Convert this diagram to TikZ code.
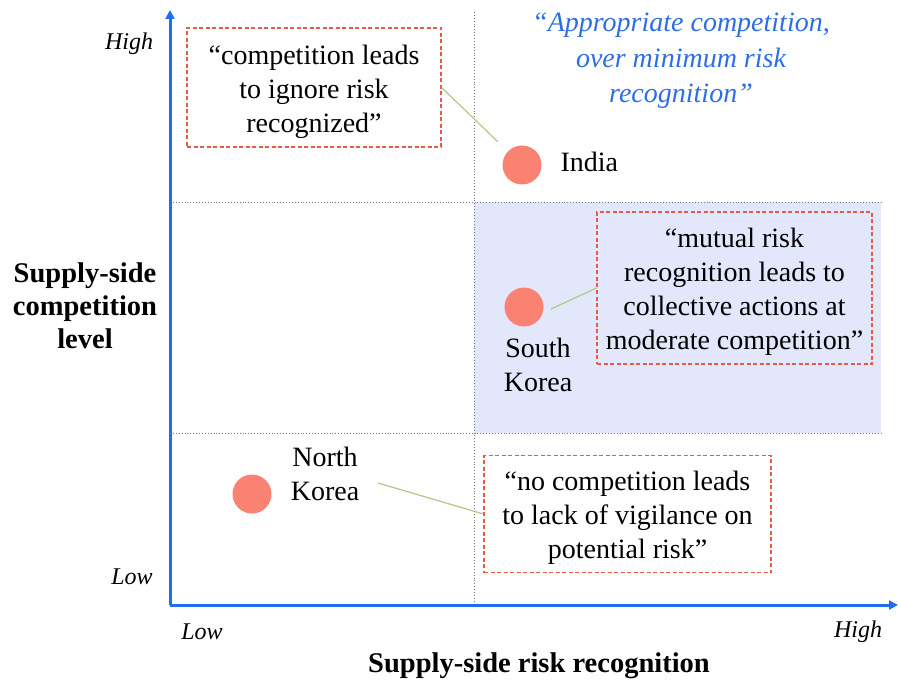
\documentclass[tikz,border=0pt]{standalone}
\usepackage{fontspec}
\setmainfont{Liberation Serif}
\usetikzlibrary{arrows.meta}
\definecolor{axisblue}{RGB}{30,110,238}
\definecolor{quoteblue}{RGB}{45,110,230}
\definecolor{zonefill}{RGB}{226,231,251}
\definecolor{boxred}{RGB}{232,90,70}
\definecolor{dotsalmon}{RGB}{250,130,115}
\definecolor{leadgreen}{RGB}{175,200,135}
\definecolor{gridgray}{RGB}{120,120,120}
\begin{document}
\begin{tikzpicture}[x=1pt,y=-1pt,
  axis/.style={draw=axisblue,line width=3pt,-{Triangle[width=9pt,length=9pt]}},
  grid/.style={draw=gridgray,dotted,line width=0.9pt},
  quotebox/.style={draw=boxred,dashed,dash pattern=on 4pt off 2.5pt,line width=1.1pt,inner sep=0pt},
  quotetext/.style={align=center,inner sep=0pt,yshift=-4pt,font=\fontsize{28}{34}\selectfont},
  country/.style={circle,fill=dotsalmon,minimum size=39pt,inner sep=0pt},
  cname/.style={align=center,font=\fontsize{28}{34}\selectfont},
  level/.style={font=\itshape\fontsize{24}{26}\selectfont},
  leader/.style={draw=leadgreen,line width=1.2pt},
  axtitle/.style={font=\bfseries\fontsize{28.5}{33}\selectfont,align=center}]
\useasboundingbox (0,0) rectangle (899,687);

% shaded zone: high risk recognition, moderate competition
\fill[zonefill] (474,202) rectangle (881,433);

% quadrant guides
\draw[grid] (474,12) -- (474,605);
\draw[grid] (170,202) -- (881,202);
\draw[grid] (170,433) -- (881,433);

% axes
\coordinate (origin) at (170,605);
\coordinate (ytip) at (170,10);
\coordinate (xtip) at (898,605);
\draw[axis] (origin) -- (ytip);
\draw[axis] (origin) -- (xtip);

% axis levels and titles
\node[level] (yhigh) at (129,44) {High};
\node[level] (ylow) at (132,577) {Low};
\node[level] (xlow) at (202,632) {Low};
\node[level] (xhigh) at (858,632) {High};
\node[axtitle] (xtitle) at (539,666) {Supply-side risk recognition};
\node[axtitle] (ytitle) at (85,306) {Supply-side\\competition\\level};

% headline quote
\node[align=center,text=quoteblue,font=\itshape\fontsize{28}{35.5}\selectfont] (headline)
  at (681,61) {``Appropriate competition,\\over minimum risk\\recognition''};

% countries
\node[country] (india) at (522,165) {};
\node[cname,anchor=west] (indialbl) at (557,162) {India};
\node[country] (skdot) at (524,307) {};
\node[cname] (sklbl) at (538,365) {South\\Korea};
\node[country] (nkdot) at (252,494) {};
\node[cname] (nklbl) at (325,474) {North\\Korea};

% quoted findings: dashed frames and their texts
\node[quotebox,minimum width=254pt,minimum height=119pt] (box1) at (314,87.5) {};
\node[quotetext] (box1text) at (box1.center)
  {``competition leads\\to ignore risk\\recognized''};
\node[quotebox,minimum width=275pt,minimum height=152pt] (box2) at (734.5,288) {};
\node[quotetext] (box2text) at (box2.center)
  {``mutual risk\\recognition leads to\\collective actions at\\moderate competition''};
\node[quotebox,minimum width=287pt,minimum height=117pt] (box3) at (627.5,514) {};
\node[quotetext] (box3text) at (box3.center)
  {``no competition leads\\to lack of vigilance on\\potential risk''};

% leader lines
\draw[leader,shorten >=14pt] (box1.east) -- (india);
\coordinate (skend) at (551,309);
\draw[leader] (box2.west) -- (skend);
\coordinate (nkend) at (378,483);
\draw[leader] (box3.west) -- (nkend);
\end{tikzpicture}
\end{document}
